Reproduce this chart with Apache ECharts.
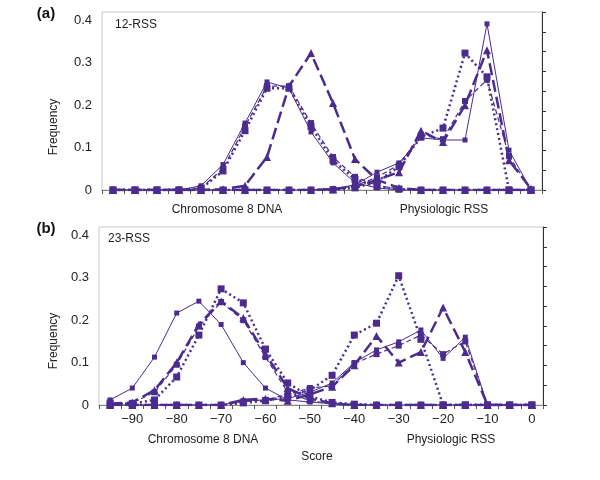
<!DOCTYPE html>
<html>
<head>
<meta charset="utf-8">
<script src="https://cdn.jsdelivr.net/npm/echarts@6/dist/echarts.min.js"></script>
<style>
  html, body { margin: 0; padding: 0; background: #fff; }
  #chart { width: 600px; height: 480px; }
</style>
</head>
<body>
<div id="chart"></div>
<script>
// scores (x categories)
const scores = [-95, -90, -85, -80, -75, -70, -65, -60, -55, -50, -45, -40, -35, -30, -25, -20, -15, -10, -5, 0];
const freqTicks = [0, 0.1, 0.2, 0.3, 0.4];

// (a) 12-RSS, chromosome 8 DNA
const aSolidC = [0, 0, 0, 0, 0.01, 0.06, 0.158, 0.255, 0.24, 0.137, 0.064, 0.017, 0.005, 0, 0, 0, 0, 0, 0, 0];
const aDashC  = [0, 0, 0, 0, 0.005, 0.05, 0.15, 0.245, 0.245, 0.158, 0.078, 0.031, 0.01, 0.003, 0, 0, 0, 0, 0, 0];
const aLongC  = [0, 0, 0, 0, 0, 0.002, 0.01, 0.078, 0.245, 0.323, 0.205, 0.073, 0.024, 0.005, 0, 0, 0, 0, 0, 0];
const aDotC   = [0, 0, 0, 0, 0.003, 0.045, 0.14, 0.24, 0.24, 0.15, 0.07, 0.025, 0.008, 0.002, 0, 0, 0, 0, 0, 0];
// (a) 12-RSS, physiologic RSS
const aSolidP = [0, 0, 0, 0, 0, 0, 0, 0, 0, 0, 0.003, 0.012, 0.042, 0.064, 0.123, 0.118, 0.118, 0.392, 0.094, 0];
const aDashP  = [0, 0, 0, 0, 0, 0, 0, 0, 0, 0, 0.002, 0.01, 0.03, 0.06, 0.13, 0.12, 0.21, 0.26, 0.08, 0];
const aLongP  = [0, 0, 0, 0, 0, 0, 0, 0, 0, 0, 0.002, 0.008, 0.024, 0.042, 0.14, 0.113, 0.2, 0.33, 0.07, 0.003];
const aDotP   = [0, 0, 0, 0, 0, 0, 0, 0, 0, 0, 0, 0.005, 0.02, 0.055, 0.125, 0.146, 0.323, 0.267, 0, 0];

// (b) 23-RSS, chromosome 8 DNA
const bSolidC = [0.012, 0.04, 0.113, 0.217, 0.245, 0.19, 0.1, 0.04, 0.012, 0.007, 0.003, 0, 0, 0, 0, 0, 0, 0, 0, 0];
const bDashC  = [0.002, 0.005, 0.03, 0.095, 0.185, 0.243, 0.2, 0.113, 0.03, 0.01, 0.003, 0, 0, 0, 0, 0, 0, 0, 0, 0];
const bLongC  = [0.003, 0.006, 0.035, 0.1, 0.19, 0.245, 0.205, 0.12, 0.04, 0.015, 0.004, 0, 0, 0, 0, 0, 0, 0, 0, 0];
const bDotC   = [0.005, 0.003, 0.012, 0.066, 0.165, 0.274, 0.241, 0.132, 0.052, 0.02, 0.006, 0.002, 0, 0, 0, 0, 0, 0, 0, 0];
// (b) 23-RSS, physiologic RSS
const bSolidP = [0, 0, 0, 0, 0, 0, 0.01, 0.012, 0.015, 0.03, 0.052, 0.1, 0.13, 0.149, 0.177, 0.11, 0.16, 0, 0, 0];
const bDashP  = [0, 0, 0, 0, 0, 0, 0.008, 0.012, 0.025, 0.04, 0.045, 0.098, 0.12, 0.14, 0.165, 0.12, 0.15, 0, 0, 0];
const bLongP  = [0, 0, 0, 0, 0, 0, 0.012, 0.015, 0.01, 0.025, 0.043, 0.094, 0.163, 0.1, 0.125, 0.23, 0.125, 0, 0, 0];
const bDotP   = [0, 0, 0, 0, 0, 0, 0.005, 0.01, 0.02, 0.035, 0.07, 0.165, 0.193, 0.305, 0.155, 0, 0, 0, 0, 0];

const purple = '#4a2c8f';
const font = '"Liberation Sans", Arial, sans-serif';

// line styles of the four models
const styles = {
  solid: { symbol: 'rect', symbolSize: 5, lineStyle: { width: 1, type: 'solid' } },
  dash:  { symbol: 'rect', symbolSize: 6, lineStyle: { width: 1.2, type: [5, 3] } },
  long:  { symbol: 'triangle', symbolSize: 8, lineStyle: { width: 2.5, type: [12, 5] } },
  dot:   { symbol: 'rect', symbolSize: 7, lineStyle: { width: 2.5, type: [2, 3] } }
};

function mk(data, style, axis) {
  let s = styles[style];
  return {
    type: 'line',
    data: data,
    xAxisIndex: axis,
    yAxisIndex: axis * 2,
    symbol: s.symbol,
    symbolSize: s.symbolSize,
    showAllSymbol: true,
    itemStyle: { color: purple },
    lineStyle: Object.assign({ color: purple }, s.lineStyle),
    animation: false
  };
}

function xAxis(grid, showLabels) {
  return {
    type: 'category',
    gridIndex: grid,
    data: scores.map(String),
    boundaryGap: true,
    axisLine: { lineStyle: { color: '#888', width: 1 } },
    axisTick: { show: true, interval: 0, length: 4, lineStyle: { color: '#555' } },
    axisLabel: {
      show: showLabels,
      interval: (i) => i % 2 === 1,
      margin: 8,
      color: '#222',
      fontFamily: font,
      fontSize: 13,
      formatter: (v) => String(v).replace('-', '\u2212')
    }
  };
}

function yLeft(grid) {
  return {
    type: 'value',
    gridIndex: grid,
    min: 0,
    max: 0.42,
    interval: 0.1,
    axisLine: { show: false },
    axisTick: { show: false },
    splitLine: { show: false },
    axisLabel: {
      showMaxLabel: false,
      margin: 10,
      color: '#222',
      fontFamily: font,
      fontSize: 13,
      formatter: (v) => freqTicks.indexOf(+v.toFixed(1)) === 0 ? '0' : v.toFixed(1)
    }
  };
}

function yRight(grid) {
  return {
    type: 'value',
    gridIndex: grid,
    position: 'right',
    min: 0,
    max: 9,
    interval: 1,
    axisLine: { show: true, lineStyle: { color: '#333' } },
    axisTick: { show: true, length: 4, lineStyle: { color: '#333' } },
    axisLabel: { show: false },
    splitLine: { show: false }
  };
}

function txt(x, y, text, opt) {
  return Object.assign({
    type: 'text',
    x: x,
    y: y,
    style: Object.assign({
      text: text,
      font: '12px ' + font,
      fill: '#222',
      align: 'center',
      verticalAlign: 'middle'
    }, opt && opt.style || {})
  }, opt && opt.rotation ? { rotation: opt.rotation } : {});
}

let option = {
  backgroundColor: '#fff',
  grid: [
    { left: 102, right: 58, top: 12, height: 178, show: true, borderColor: '#c8c8c8', borderWidth: 1 },
    { left: 99, right: 57, top: 227, height: 178, show: true, borderColor: '#c8c8c8', borderWidth: 1 }
  ],
  xAxis: [xAxis(0, false), xAxis(1, true)],
  yAxis: [yLeft(0), yRight(0), yLeft(1), yRight(1)],
  series: [
    mk(aSolidC, 'solid', 0), mk(aDashC, 'dash', 0), mk(aLongC, 'long', 0), mk(aDotC, 'dot', 0),
    mk(aSolidP, 'solid', 0), mk(aDashP, 'dash', 0), mk(aLongP, 'long', 0), mk(aDotP, 'dot', 0),
    mk(bSolidC, 'solid', 1), mk(bDashC, 'dash', 1), mk(bLongC, 'long', 1), mk(bDotC, 'dot', 1),
    mk(bSolidP, 'solid', 1), mk(bDashP, 'dash', 1), mk(bLongP, 'long', 1), mk(bDotP, 'dot', 1)
  ],
  graphic: [
    txt(46, 14, '(a)', { style: { font: 'bold 15px ' + font, fill: '#111' } }),
    txt(115, 25, '12-RSS', { style: { align: 'left' } }),
    txt(54, 127, 'Frequency', { rotation: Math.PI / 2 }),
    txt(227, 210, 'Chromosome 8 DNA'),
    txt(444, 210, 'Physiologic RSS'),
    txt(46, 229, '(b)', { style: { font: 'bold 15px ' + font, fill: '#111' } }),
    txt(108, 239, '23-RSS', { style: { align: 'left' } }),
    txt(54, 341, 'Frequency', { rotation: Math.PI / 2 }),
    txt(203, 440, 'Chromosome 8 DNA'),
    txt(451, 440, 'Physiologic RSS'),
    txt(317, 457, 'Score')
  ]
};

let myChart = echarts.init(document.getElementById('chart'));
myChart.setOption(option);
</script>
</body>
</html>
